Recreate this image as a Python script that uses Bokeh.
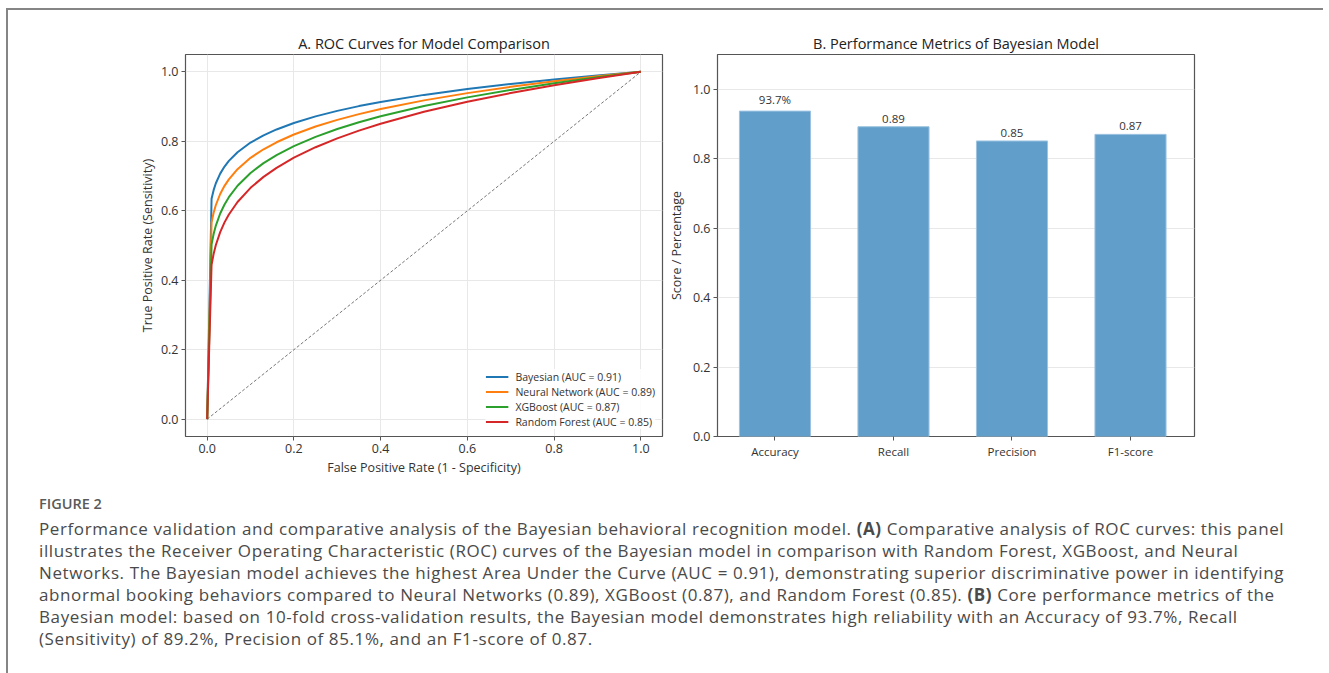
from bokeh.plotting import figure
from bokeh.layouts import row, column
from bokeh.models import Div, FixedTicker, ColumnDataSource, Range1d, Legend, LegendItem
from bokeh.embed import file_html
from bokeh.resources import INLINE

# ---------------- data ----------------
fpr = [0.0, 0.0101, 0.015, 0.02, 0.03, 0.04, 0.05, 0.07, 0.1, 0.13, 0.16, 0.2,
       0.25, 0.3, 0.35, 0.4, 0.5, 0.6, 0.7, 0.8, 0.9, 1.0]
tpr_bayes = [0.0, 0.6348, 0.6601, 0.6792, 0.7070, 0.7274, 0.7436, 0.7687, 0.7964, 0.8173, 0.8342, 0.8528,
             0.8719, 0.8877, 0.9014, 0.9134, 0.9337, 0.9507, 0.9653, 0.9782, 0.9896, 1.0]
tpr_nn = [0.0, 0.5667, 0.5951, 0.6166, 0.6483, 0.6718, 0.6905, 0.7199, 0.7524, 0.7771, 0.7973, 0.8196,
          0.8425, 0.8617, 0.8783, 0.8929, 0.9179, 0.9388, 0.9569, 0.9728, 0.9871, 1.0]
tpr_xgb = [0.0, 0.5033, 0.5339, 0.5574, 0.5922, 0.6182, 0.6391, 0.6721, 0.7089, 0.7373, 0.7605, 0.7863,
           0.8129, 0.8353, 0.8548, 0.8720, 0.9016, 0.9265, 0.9481, 0.9672, 0.9844, 1.0]
tpr_rf = [0.0, 0.4445, 0.4766, 0.5014, 0.5386, 0.5666, 0.5894, 0.6254, 0.6661, 0.6976, 0.7237, 0.7528,
          0.7830, 0.8086, 0.8309, 0.8507, 0.8849, 0.9138, 0.9390, 0.9614, 0.9816, 1.0]
model_names = ["Bayesian (AUC = 0.91)", "Neural Network (AUC = 0.89)",
               "XGBoost (AUC = 0.87)", "Random Forest (AUC = 0.85)"]
diag_x = [0.0, 1.0]
diag_y = [0.0, 1.0]
roc_ticks = [0.0, 0.2, 0.4, 0.6, 0.8, 1.0]

metrics = ["Accuracy", "Recall", "Precision", "F1-score"]
metric_values = [0.937, 0.892, 0.851, 0.870]
metric_labels = ["93.7%", "0.89", "0.85", "0.87"]
bar_ticks = [0.0, 0.2, 0.4, 0.6, 0.8, 1.0]

# ---------------- style ----------------
FONT = "Open Sans"
COLORS = ["#1f77b4", "#ff7f0e", "#2ca02c", "#d62728"]
GRID = "#e8e8e8"
SPINE = "#555555"
TXT = "#333333"


def style_axes(p):
    for ax in (p.xaxis[0], p.yaxis[0]):
        ax.axis_line_color = None
        ax.major_tick_line_color = SPINE
        ax.major_tick_out = 4
        ax.major_tick_in = 0
        ax.minor_tick_line_color = None
        ax.major_label_text_font = FONT
        ax.major_label_text_color = TXT
        ax.axis_label_text_font = FONT
        ax.axis_label_text_font_style = "normal"
        ax.axis_label_text_color = TXT
        ax.axis_label_text_font_size = "12.5px"
    p.outline_line_color = SPINE
    p.outline_line_width = 1.2
    p.title.text_font = FONT
    p.title.text_font_style = "normal"
    p.title.text_font_size = "14.5px"
    p.title.text_color = "#222222"
    p.title.align = "center"
    p.title.standoff = 3
    p.background_fill_color = "white"
    p.border_fill_color = "white"


# ---------------- Panel A ----------------
pA = figure(width=656, height=468, output_backend="svg", toolbar_location=None,
            x_range=Range1d(-0.05, 1.05), y_range=Range1d(-0.05, 1.05),
            min_border_left=177, min_border_right=2, min_border_top=44, min_border_bottom=40,
            title="A. ROC Curves for Model Comparison")
style_axes(pA)
pA.xgrid.grid_line_color = GRID
pA.ygrid.grid_line_color = GRID
pA.xaxis.ticker = FixedTicker(ticks=roc_ticks)
pA.yaxis.ticker = FixedTicker(ticks=roc_ticks)
pA.xaxis.major_label_overrides = {t: f"{t:.1f}" for t in roc_ticks}
pA.yaxis.major_label_overrides = {t: f"{t:.1f}" for t in roc_ticks}
pA.xaxis.major_label_text_font_size = "12.5px"
pA.yaxis.major_label_text_font_size = "12.5px"
pA.xaxis.major_label_standoff = 3
pA.yaxis.major_label_standoff = 3
pA.xaxis.axis_label = "False Positive Rate (1 - Specificity)"
pA.yaxis.axis_label = "True Positive Rate (Sensitivity)"
pA.xaxis.axis_label_standoff = 3
pA.yaxis.axis_label_standoff = 2

pA.line(diag_x, diag_y, line_color="#555555", line_dash="3 2", line_width=1, line_alpha=0.8)
items = []
for ys, c, name in zip([tpr_bayes, tpr_nn, tpr_xgb, tpr_rf], COLORS, model_names):
    r = pA.line(fpr, ys, line_color=c, line_width=2)
    items.append(LegendItem(label=name, renderers=[r]))
leg = Legend(items=items, location="bottom_right")
leg.label_text_font = FONT
leg.label_text_font_size = "10.5px"
leg.label_text_color = TXT
leg.glyph_width = 23
leg.glyph_height = 15
leg.label_height = 15
leg.label_standoff = 7
leg.spacing = 0
leg.padding = 4
leg.margin = 7
leg.border_line_color = None
leg.background_fill_color = "white"
leg.background_fill_alpha = 0.85
pA.add_layout(leg)

# ---------------- Panel B ----------------
xs = list(range(len(metrics)))
src = ColumnDataSource(dict(x=xs, top=metric_values, label=metric_labels,
                            ly=[v + 0.012 for v in metric_values]))
pB = figure(width=540, height=468, output_backend="svg", toolbar_location=None,
            x_range=Range1d(-0.485, 3.54), y_range=Range1d(0, 1.1),
            min_border_left=53, min_border_right=10, min_border_top=44, min_border_bottom=40,
            title="B. Performance Metrics of Bayesian Model")
style_axes(pB)
pB.xgrid.grid_line_color = None
pB.ygrid.grid_line_color = GRID
pB.yaxis.ticker = FixedTicker(ticks=bar_ticks)
pB.yaxis.major_label_overrides = {t: f"{t:.1f}" for t in bar_ticks}
pB.xaxis.ticker = FixedTicker(ticks=xs)
pB.xaxis.major_label_overrides = {i: m for i, m in zip(xs, metrics)}
pB.xaxis.major_label_text_font_size = "11.5px"
pB.yaxis.major_label_text_font_size = "12.5px"
pB.xaxis.major_label_standoff = 3
pB.yaxis.major_label_standoff = 3
pB.yaxis.axis_label = "Score / Percentage"
pB.yaxis.axis_label_standoff = 5

pB.vbar(x="x", top="top", width=0.6, source=src, fill_color="#619fca",
        line_color="#9cc3e0", line_width=1)
pB.text(x="x", y="ly", text="label", source=src, text_align="center",
        text_baseline="bottom", text_font_size="11.5px", text_color=TXT,
        text_font={"value": FONT})

# ---------------- caption ----------------
caption_lines = [
    "Performance validation and comparative analysis of the Bayesian behavioral recognition model. <b>(A)</b> Comparative analysis of ROC curves: this panel",
    "illustrates the Receiver Operating Characteristic (ROC) curves of the Bayesian model in comparison with Random Forest, XGBoost, and Neural",
    "Networks. The Bayesian model achieves the highest Area Under the Curve (AUC = 0.91), demonstrating superior discriminative power in identifying",
    "abnormal booking behaviors compared to Neural Networks (0.89), XGBoost (0.87), and Random Forest (0.85). <b>(B)</b> Core performance metrics of the",
    "Bayesian model: based on 10-fold cross-validation results, the Bayesian model demonstrates high reliability with an Accuracy of 93.7%, Recall",
    "(Sensitivity) of 89.2%, Precision of 85.1%, and an F1-score of 0.87.",
]
cap_html = (
    "<div style=\"font-family:'Open Sans',sans-serif;padding:13px 0 0 26px;white-space:nowrap;\">"
    "<div style=\"font-size:14.5px;line-height:16px;font-weight:600;color:#5a5a5a;margin-bottom:6px;\">FIGURE 2</div>"
    "<div style=\"font-size:17px;letter-spacing:0.6px;line-height:22px;color:#4a4a4a;\">"
    + "<br>".join(caption_lines) + "</div></div>"
)
cap = Div(text=cap_html, width=1305, height=193)

layout = column(row(pA, pB), cap, margin=(8, 0, 0, 6),
                styles={"border-top": "2px solid #858585", "border-left": "2px solid #858585"})

open("out.html", "w").write(file_html(layout, INLINE))
